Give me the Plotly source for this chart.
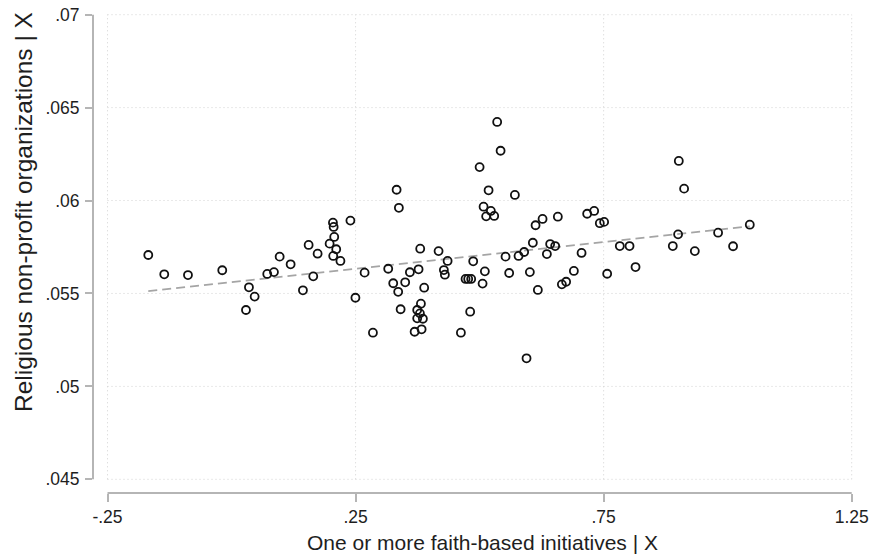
import plotly.graph_objects as go

# ---- data ----
x_vals = [-0.1678, -0.1356, -0.0878, -0.0187, 0.0351, 0.0466, 0.0291, 0.0720, 0.0855, 0.0970,
          0.1191, 0.1439, 0.1554, 0.1735, 0.1647, 0.2044, 0.2058, 0.2070, 0.1977, 0.2110,
          0.2050, 0.2195, 0.2396, 0.2497, 0.2682, 0.2850, 0.3158, 0.3259, 0.3327, 0.3373,
          0.3359, 0.3408, 0.3500, 0.3595, 0.3770, 0.3803, 0.3883, 0.3817, 0.3742, 0.3797,
          0.3742, 0.3857, 0.3690, 0.3831, 0.4173, 0.4355, 0.4280, 0.4300, 0.4623, 0.4810,
          0.4717, 0.4770, 0.4830, 0.4871, 0.5060, 0.5106, 0.5000, 0.5181, 0.5080, 0.5132,
          0.5227, 0.5294, 0.5354, 0.5423, 0.5711, 0.5523, 0.5596, 0.5785, 0.5898, 0.5946,
          0.6013, 0.6073, 0.6174, 0.6128, 0.6269, 0.6356, 0.6422, 0.6523, 0.6577, 0.6658,
          0.6744, 0.6900, 0.7055, 0.7168, 0.7309, 0.7423, 0.7510, 0.7571, 0.7826, 0.8022,
          0.8143, 0.9015, 0.9122, 0.9001, 0.8894, 0.9338, 0.9807, 1.0109, 1.0446]
y_vals = [0.05707, 0.05603, 0.05599, 0.05625, 0.05533, 0.05483, 0.05411, 0.05605, 0.05615, 0.05698,
          0.05657, 0.05517, 0.05761, 0.05714, 0.05592, 0.05881, 0.05858, 0.05804, 0.05768, 0.05738,
          0.05702, 0.05675, 0.05892, 0.05477, 0.05612, 0.05289, 0.05633, 0.05555, 0.06058, 0.05961,
          0.05509, 0.05415, 0.05560, 0.05614, 0.05630, 0.05741, 0.05531, 0.05445, 0.05411, 0.05393,
          0.05366, 0.05364, 0.05294, 0.05307, 0.05728, 0.05675, 0.05626, 0.05601, 0.05289, 0.05402,
          0.05578, 0.05578, 0.05578, 0.05673, 0.05553, 0.05619, 0.06180, 0.06055, 0.05967, 0.05915,
          0.05944, 0.05917, 0.06423, 0.06268, 0.06030, 0.05698, 0.05610, 0.05702, 0.05723, 0.05151,
          0.05615, 0.05773, 0.05519, 0.05867, 0.05901, 0.05712, 0.05766, 0.05755, 0.05913, 0.05549,
          0.05563, 0.05621, 0.05718, 0.05929, 0.05944, 0.05878, 0.05885, 0.05606, 0.05755, 0.05755,
          0.05642, 0.06213, 0.06064, 0.05818, 0.05755, 0.05728, 0.05827, 0.05754, 0.05870]

# fitted line: values at the smallest and largest x
fit_y = [0.05513, 0.05861]

x_ticks = [-0.25, 0.25, 0.75, 1.25]
x_tick_labels = ["-.25", ".25", ".75", "1.25"]
y_ticks = [0.045, 0.05, 0.055, 0.06, 0.065, 0.07]
y_tick_labels = [".045", ".05", ".055", ".06", ".065", ".07"]

x_title = "One or more faith-based initiatives | X"
y_title = "Religious non-profit organizations | X"

# ---- layout geometry (pixels) ----
W, H = 869, 558
L, R, T, B = 93, 7, 8, 65
pw, ph = W - L - R, H - T - B
data_left_px, data_right_px = 107.5 - L, 851.7 - L        # inside plot area
data_top_px, data_bottom_px = 14.7 - T, 479.3 - T

xspan = x_ticks[-1] - x_ticks[0]
xs = xspan / (data_right_px - data_left_px)
x_range = [x_ticks[0] - data_left_px * xs, x_ticks[-1] + (pw - data_right_px) * xs]
yspan = y_ticks[-1] - y_ticks[0]
ys = yspan / (data_bottom_px - data_top_px)
y_range = [y_ticks[0] - (ph - data_bottom_px) * ys, y_ticks[-1] + data_top_px * ys]


def px_to_paper_x(px):
    return (px - L) / pw


def px_to_paper_y(py):
    return (T + ph - py) / ph


axis_col = "#b5b5b5"
grid_col = "#d2d2d2"
text_col = "#1e1e1e"
font_family = "Liberation Sans, Arial, sans-serif"

fig = go.Figure()

shapes = []
# dotted grid lines limited to the data region
for yv in y_ticks:
    shapes.append(dict(type="line", xref="x", yref="y", x0=x_ticks[0], x1=x_ticks[-1], y0=yv, y1=yv,
                       line=dict(color=grid_col, width=1, dash="1px,3px"), layer="below"))
for xv in x_ticks:
    shapes.append(dict(type="line", xref="x", yref="y", x0=xv, x1=xv, y0=y_ticks[0], y1=y_ticks[-1],
                       line=dict(color=grid_col, width=1, dash="1px,3px"), layer="below"))
# offset axis lines
shapes.append(dict(type="line", xref="paper", yref="y", x0=0, x1=0, y0=y_ticks[0], y1=y_ticks[-1],
                   line=dict(color=axis_col, width=2)))
shapes.append(dict(type="line", xref="x", yref="paper", x0=x_ticks[0], x1=x_ticks[-1], y0=0, y1=0,
                   line=dict(color=axis_col, width=2)))

fig.add_trace(go.Scatter(
    x=[min(x_vals), max(x_vals)], y=fit_y, mode="lines",
    line=dict(color="#a5a5a5", width=1.8, dash="9px,5px"),
    hoverinfo="skip", showlegend=False))

fig.add_trace(go.Scatter(
    x=x_vals, y=y_vals, mode="markers",
    marker=dict(symbol="circle-open", size=8, color="#111111", line=dict(width=1.8, color="#111111")),
    showlegend=False))

fig.update_layout(
    width=W, height=H,
    margin=dict(l=L, r=R, t=T, b=B, pad=0),
    paper_bgcolor="white", plot_bgcolor="white",
    font=dict(family=font_family, color=text_col, size=17.5),
    shapes=shapes,
    xaxis=dict(range=x_range, tickvals=x_ticks, ticktext=x_tick_labels, showgrid=False, zeroline=False,
               showline=False, ticks="outside", ticklen=8, tickwidth=2, tickcolor=axis_col,
               tickfont=dict(size=17.5, color=text_col), fixedrange=True, automargin=False,
               ticklabeloverflow="allow"),
    yaxis=dict(range=y_range, tickvals=y_ticks, ticktext=y_tick_labels, showgrid=False, zeroline=False,
               showline=False, ticks="outside", ticklen=7, tickwidth=2, tickcolor=axis_col,
               tickfont=dict(size=17.5, color=text_col), fixedrange=True, automargin=False,
               ticklabeloverflow="allow", ticklabelstandoff=2),
    annotations=[
        dict(text=x_title, xref="paper", yref="paper", x=px_to_paper_x(482.4), y=px_to_paper_y(542.5),
             xanchor="center", yanchor="middle", showarrow=False, font=dict(size=21, color=text_col)),
        dict(text=y_title, xref="paper", yref="paper", x=px_to_paper_x(23.5), y=px_to_paper_y(212.5),
             textangle=-90, xanchor="center", yanchor="middle", showarrow=False,
             font=dict(size=24.5, color=text_col)),
    ],
)

fig.write_html(
    "out.html",
    config={"displayModeBar": False},
    post_script="document.body.style.margin='0';document.body.style.padding='0';"
                "document.documentElement.style.overflow='hidden';",
)
